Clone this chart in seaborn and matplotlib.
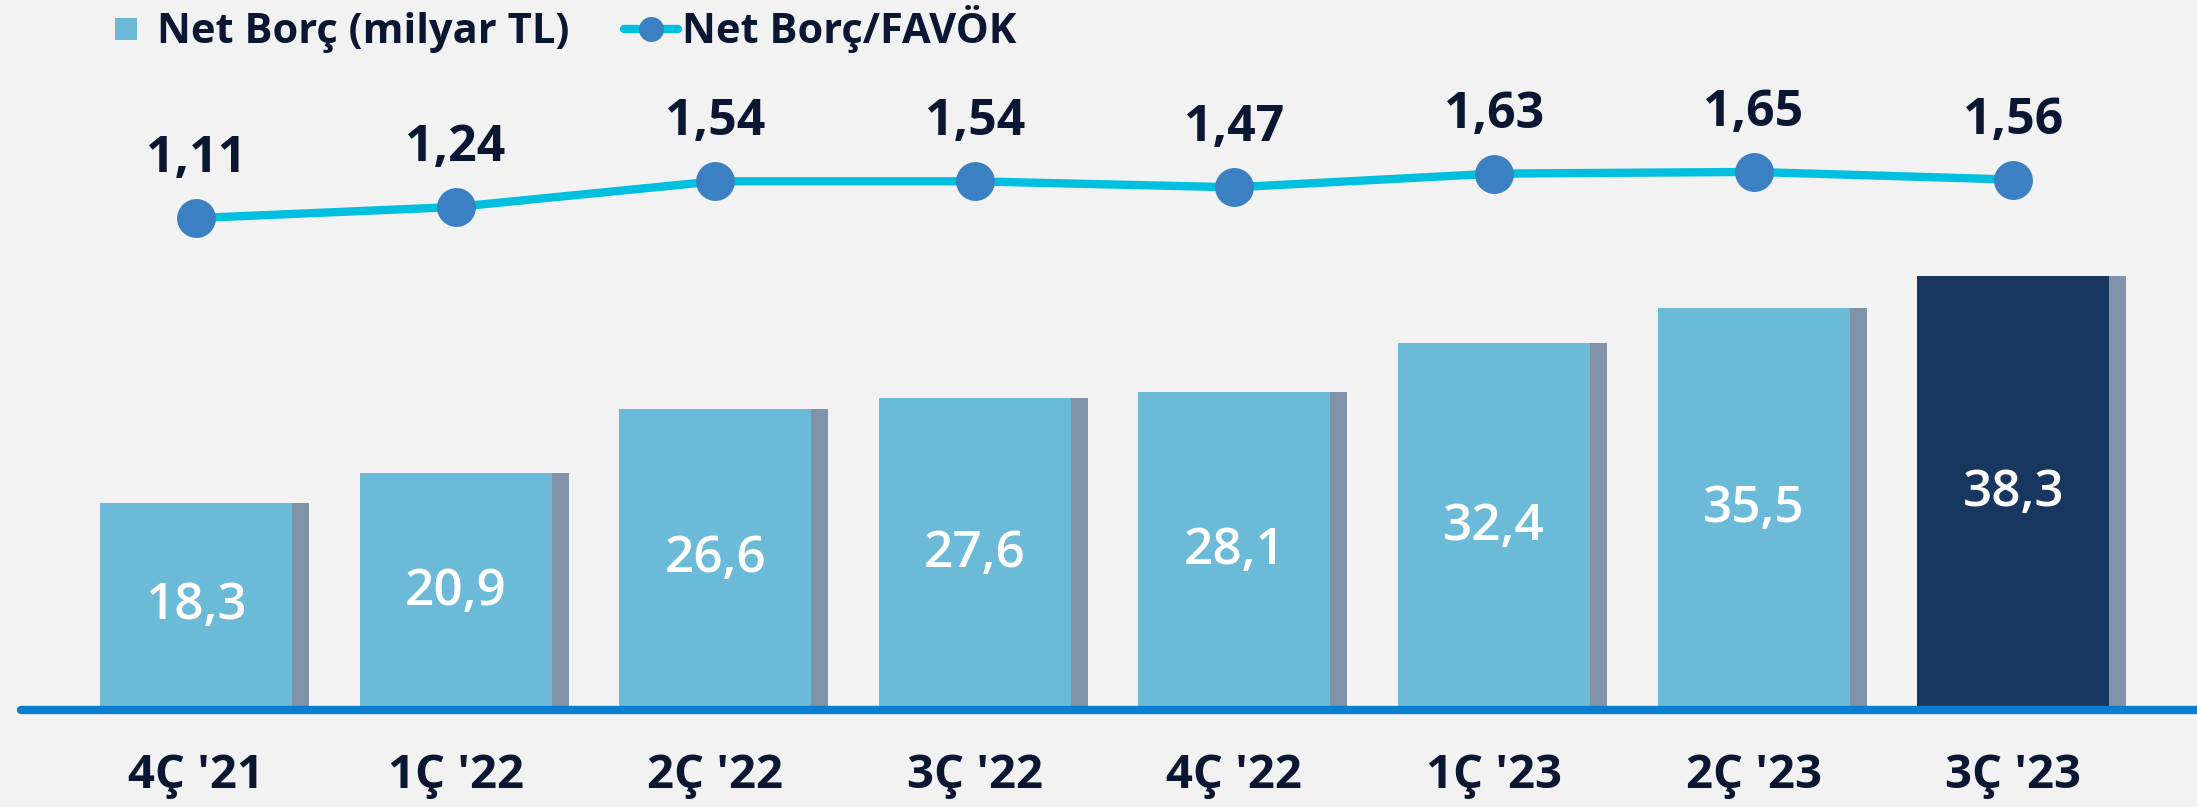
import numpy as np
import matplotlib
matplotlib.use("Agg")
import matplotlib.pyplot as plt
from matplotlib.lines import Line2D
import seaborn as sns

# data
quarters = ["4Ç '21", "1Ç '22", "2Ç '22", "3Ç '22", "4Ç '22", "1Ç '23", "2Ç '23", "3Ç '23"]
net_borc = [18.3, 20.9, 26.6, 27.6, 28.1, 32.4, 35.5, 38.3]
net_borc_favok = [1.11, 1.24, 1.54, 1.54, 1.47, 1.63, 1.65, 1.56]

bar_light = "#6BBAD7"
bar_dark = "#173660"
shadow = "#8193A9"
line_col = "#00BFDF"
marker_col = "#3A80C3"
navy = "#0B1633"
axis_blue = "#0A7FCF"
bg = "#F2F2F2"

sns.set_theme(style="white")
plt.rcParams["font.family"] = ["Open Sans", "DejaVu Sans"]

fig = plt.figure(figsize=(21.97, 8.07), dpi=100, facecolor=bg)
ax = fig.add_axes([0, 97 / 807, 1, 710 / 807])
ax.set_facecolor("none")

n = len(quarters)
pos = np.arange(n)
colors = [bar_light] * (n - 1) + [bar_dark]
bw = 0.74
sw = 0.065

# shadow bars (a bit wider, shifted right)
sns.barplot(x=pos, y=net_borc, color=shadow, width=bw + sw, ax=ax,
            native_scale=True, saturation=1, linewidth=0, zorder=1)
for p in ax.patches:
    p.set_x(p.get_x() + sw / 2)

sns.barplot(x=pos, y=net_borc, hue=pos, palette=colors, width=bw, ax=ax,
            native_scale=True, saturation=1, legend=False, dodge=False,
            linewidth=0, zorder=2)

for i, v in enumerate(net_borc):
    ax.text(i, v / 2, f"{v:.1f}".replace(".", ","), ha="center", va="center",
            color="white", fontsize=37, fontweight="semibold", zorder=4)

ax.axhline(0, xmin=21 / 2197, xmax=1, color=axis_blue, lw=6,
           solid_capstyle="round", zorder=5, clip_on=False)

ax.set_xlim(-0.755, -0.755 + 2197 / 259.6)
ax.set_ylim(0, 62.72)
ax.set_xticks(pos)
ax.set_xticklabels(quarters, fontsize=34, fontweight="bold", color=navy)
ax.tick_params(axis="x", length=0, pad=30)
ax.set_yticks([])
ax.set_xlabel("")
ax.set_ylabel("")
for s in ax.spines.values():
    s.set_visible(False)

ax2 = ax.twinx()
ax2.set_facecolor("none")
sns.lineplot(x=pos, y=net_borc_favok, ax=ax2, color=line_col, lw=6,
             marker="o", markersize=28, markerfacecolor=marker_col,
             markeredgewidth=0, zorder=3)
for i, v in enumerate(net_borc_favok):
    ax2.annotate(f"{v:.2f}".replace(".", ","), (i, v), xytext=(0, 33),
                 textcoords="offset points", ha="center", va="baseline",
                 fontsize=36, fontweight="bold", color=navy)
ax2.set_ylim(-397 / 85.5, (710 - 397) / 85.5)
ax2.set_yticks([])
ax2.set_ylabel("")
for s in ax2.spines.values():
    s.set_visible(False)

handles = [
    Line2D([0], [0], linestyle="none", marker="s", markersize=16,
           markerfacecolor=bar_light, markeredgewidth=0),
    Line2D([0], [0], color=line_col, lw=6, marker="o", markersize=18,
           markerfacecolor=marker_col, markeredgewidth=0),
]
fig.legend(handles, ["Net Borç (milyar TL)", "Net Borç/FAVÖK"], loc="upper left",
           bbox_to_anchor=(0.028, 1.04), ncol=2, frameon=False,
           prop={"size": 30, "weight": "bold"}, labelcolor=navy,
           handlelength=1.3, handletextpad=0.1, columnspacing=1.3)

fig.savefig("out.png", dpi=100, facecolor=bg)
